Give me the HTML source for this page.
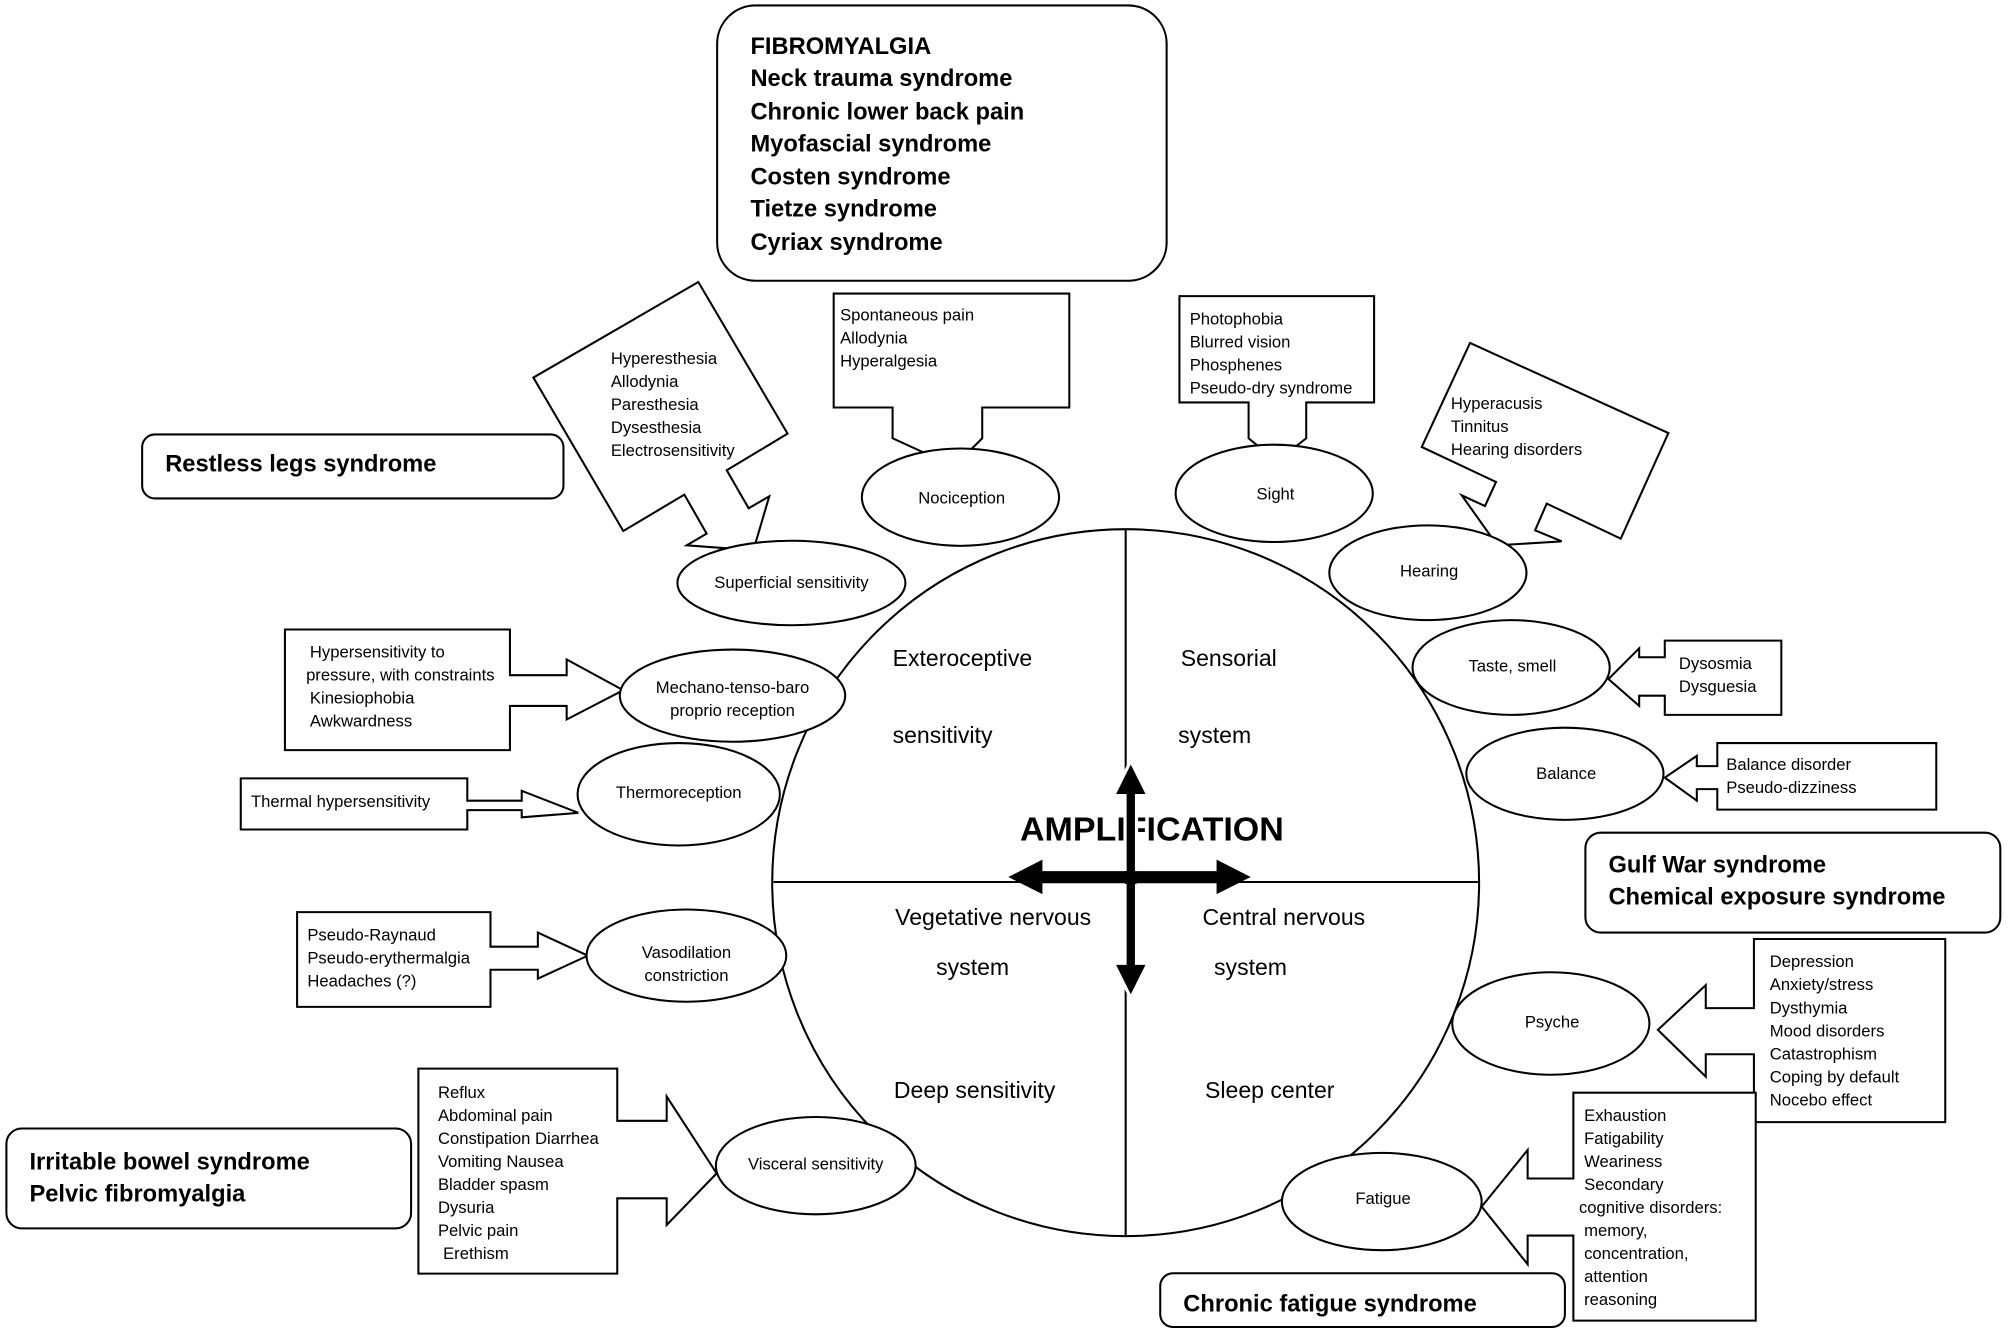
<!DOCTYPE html>
<html><head><meta charset="utf-8"><style>
html,body{margin:0;padding:0;background:#fff;}
svg{display:block;}
text{font-family:"Liberation Sans",sans-serif;fill:#000;}
.s{font-size:13px;}
.q{font-size:18px;}
.b{font-size:18.5px;font-weight:bold;}
</style></head><body>
<svg width="2008" height="1335" viewBox="0 0 1568 1042" xmlns="http://www.w3.org/2000/svg">
<g fill="#fff" stroke="#000" stroke-width="1.6" stroke-linejoin="miter">
<!-- main circle -->
<circle cx="879" cy="689" r="276"/>
<line x1="879" y1="413" x2="879" y2="965"/>
<line x1="604" y1="688.5" x2="1155" y2="688.5"/>

<!-- rounded boxes -->
<rect x="560" y="4" width="351" height="215" rx="30"/>
<rect x="111" y="339" width="329" height="50" rx="10"/>
<rect x="1238" y="650" width="324" height="78" rx="12"/>
<rect x="5" y="881" width="316" height="78" rx="12"/>
<rect x="906" y="994" width="316" height="42" rx="10"/>

<!-- callouts -->
<polygon points="651,229 835,229 835,318 767,318 767,342 745,364 697,342 697,318 651,318"/>
<polygon points="921,231 1073,231 1073,314 1020,314 1020,342 997,360 975,342 975,314 921,314"/>
<polygon points="416.5,294.6 545.3,220 615,338.4 567.5,367 584.6,396.7 600.7,387.3 588.3,429.5 536.2,425.6 551.8,416.5 534.4,386 486.7,414.4"/>
<polygon points="1147.9,267.6 1302.8,337.9 1265.6,420.4 1207.8,393 1198.7,413.9 1219.5,422.5 1169.2,425.6 1141.4,386.5 1159.6,394.9 1168.2,376.1 1110.2,348.8"/>
<polygon points="222.5,491.3 398.2,491.3 398.2,527 442.5,527 442.5,514.7 486.7,538.7 442.5,561.6 442.5,551 398.2,551 398.2,585.5 222.5,585.5"/>
<polygon points="188,607.6 364.9,607.6 364.9,625 407.4,625 407.4,617.3 451.6,634.5 407.4,638 407.4,632.4 364.9,632.4 364.9,647.5 188,647.5"/>
<polygon points="232,712 383,712 383,739 420,739 420,728 459,746 420,764 420,757 383,757 383,786 232,786"/>
<polygon points="326.7,834.2 482,834.2 482,875 520.6,875 520.6,856 559.6,916 520.6,956.3 520.6,935.5 482,935.5 482,994.3 326.7,994.3"/>
<polygon points="1391,500 1300,500 1300,513 1280,513 1280,506 1256,530 1280,551 1280,543 1300,543 1300,558 1391,558"/>
<polygon points="1512,580 1341,580 1341,598 1325,598 1325,590 1300,607 1325,625 1325,616 1341,616 1341,632 1512,632"/>
<polygon points="1519,733 1369.6,733 1369.6,787 1332,787 1332,769 1294.6,804 1332,840.5 1332,823 1369.6,823 1369.6,876 1519,876"/>
<polygon points="1371,853 1228.6,853 1228.6,920 1192.9,920 1192.9,897.8 1157,942 1192.9,987 1192.9,964.6 1228.6,964.6 1228.6,1031 1371,1031"/>

<!-- ellipses -->
<ellipse cx="750" cy="388" rx="77" ry="38"/>
<ellipse cx="995" cy="385" rx="77" ry="38"/>
<ellipse cx="618" cy="455" rx="89" ry="33"/>
<ellipse cx="1115" cy="447" rx="77" ry="37"/>
<ellipse cx="1180" cy="521" rx="77" ry="37"/>
<ellipse cx="1222" cy="604" rx="77" ry="36"/>
<ellipse cx="572" cy="543" rx="88" ry="36"/>
<ellipse cx="530" cy="620" rx="79" ry="40"/>
<ellipse cx="536" cy="746" rx="78" ry="36"/>
<ellipse cx="637" cy="910" rx="78" ry="38"/>
<ellipse cx="1211" cy="799" rx="77" ry="40"/>
<ellipse cx="1079" cy="938" rx="78" ry="38"/>
</g>

<!-- big box texts -->
<g class="b">
<text x="586" y="42">FIBROMYALGIA</text>
<text x="586" y="67">Neck trauma syndrome</text>
<text x="586" y="93">Chronic lower back pain</text>
<text x="586" y="118">Myofascial syndrome</text>
<text x="586" y="144">Costen syndrome</text>
<text x="586" y="169">Tietze syndrome</text>
<text x="586" y="195">Cyriax syndrome</text>
<text x="129" y="368">Restless legs syndrome</text>
<text x="1256" y="681">Gulf War syndrome</text>
<text x="1256" y="706">Chemical exposure syndrome</text>
<text x="23" y="913">Irritable bowel syndrome</text>
<text x="23" y="938">Pelvic fibromyalgia</text>
<text x="924" y="1024">Chronic fatigue syndrome</text>
</g>

<!-- quadrant labels -->
<g class="q">
<text x="697" y="520">Exteroceptive</text>
<text x="697" y="580">sensitivity</text>
<text x="922" y="520">Sensorial</text>
<text x="920" y="580">system</text>
<text x="699" y="722">Vegetative nervous</text>
<text x="731" y="761">system</text>
<text x="939" y="722">Central nervous</text>
<text x="948" y="761">system</text>
<text x="698" y="857">Deep sensitivity</text>
<text x="941" y="857">Sleep center</text>
</g>

<!-- AMPLIFICATION -->
<text x="796.5" y="656" font-size="26" font-weight="bold" textLength="206" lengthAdjust="spacingAndGlyphs">AMPLIFICATION</text>
<g fill="#000" stroke="#fff" stroke-width="2.5">
<polygon points="883,594 896.5,621 887.5,621 887.5,752 896.5,752 883,779 869.5,752 878.5,752 878.5,621 869.5,621"/>
</g>
<polygon fill="#000" points="787.4,684.6 814,671 814,680 950,680 950,671 976.6,684.6 950,698 950,689.5 814,689.5 814,698"/>
<polygon fill="#000" points="878.5,680 887.5,680 887.5,690 878.5,690"/>

<!-- ellipse labels -->
<g class="s" text-anchor="middle">
<text x="751" y="393">Nociception</text>
<text x="996" y="390">Sight</text>
<text x="618" y="459">Superficial sensitivity</text>
<text x="1116" y="450">Hearing</text>
<text x="1181" y="524">Taste, smell</text>
<text x="1223" y="608">Balance</text>
<text x="572" y="541">Mechano-tenso-baro</text>
<text x="572" y="559">proprio reception</text>
<text x="530" y="623">Thermoreception</text>
<text x="536" y="748">Vasodilation</text>
<text x="536" y="766">constriction</text>
<text x="637" y="913">Visceral sensitivity</text>
<text x="1212" y="802">Psyche</text>
<text x="1080" y="940">Fatigue</text>
</g>

<!-- callout texts -->
<g class="s">
<text x="656" y="250">Spontaneous pain</text>
<text x="656" y="268">Allodynia</text>
<text x="656" y="286">Hyperalgesia</text>
<text x="929" y="253">Photophobia</text>
<text x="929" y="271">Blurred vision</text>
<text x="929" y="289">Phosphenes</text>
<text x="929" y="307">Pseudo-dry syndrome</text>
<text x="477" y="284">Hyperesthesia</text>
<text x="477" y="302">Allodynia</text>
<text x="477" y="320">Paresthesia</text>
<text x="477" y="338">Dysesthesia</text>
<text x="477" y="356">Electrosensitivity</text>
<text x="1133" y="319">Hyperacusis</text>
<text x="1133" y="337">Tinnitus</text>
<text x="1133" y="355">Hearing disorders</text>
<text x="242" y="513">Hypersensitivity to</text>
<text x="239" y="531">pressure, with constraints</text>
<text x="242" y="549">Kinesiophobia</text>
<text x="242" y="567">Awkwardness</text>
<text x="196" y="630">Thermal hypersensitivity</text>
<text x="240" y="734">Pseudo-Raynaud</text>
<text x="240" y="752">Pseudo-erythermalgia</text>
<text x="240" y="770">Headaches (?)</text>
<text x="342" y="857">Reflux</text>
<text x="342" y="875">Abdominal pain</text>
<text x="342" y="893">Constipation  Diarrhea</text>
<text x="342" y="911">Vomiting Nausea</text>
<text x="342" y="929">Bladder spasm</text>
<text x="342" y="947">Dysuria</text>
<text x="342" y="965">Pelvic pain</text>
<text x="346" y="983">Erethism</text>
<text x="1311" y="522">Dysosmia</text>
<text x="1311" y="540">Dysguesia</text>
<text x="1348" y="601">Balance disorder</text>
<text x="1348" y="619">Pseudo-dizziness</text>
<text x="1382" y="755">Depression</text>
<text x="1382" y="773">Anxiety/stress</text>
<text x="1382" y="791">Dysthymia</text>
<text x="1382" y="809">Mood disorders</text>
<text x="1382" y="827">Catastrophism</text>
<text x="1382" y="845">Coping by default</text>
<text x="1382" y="863">Nocebo effect</text>
<text x="1237" y="875">Exhaustion</text>
<text x="1237" y="893">Fatigability</text>
<text x="1237" y="911">Weariness</text>
<text x="1237" y="929">Secondary</text>
<text x="1233" y="947">cognitive disorders:</text>
<text x="1237" y="965">memory,</text>
<text x="1237" y="983">concentration,</text>
<text x="1237" y="1001">attention</text>
<text x="1237" y="1019">reasoning</text>
</g>
</svg>
</body></html>
